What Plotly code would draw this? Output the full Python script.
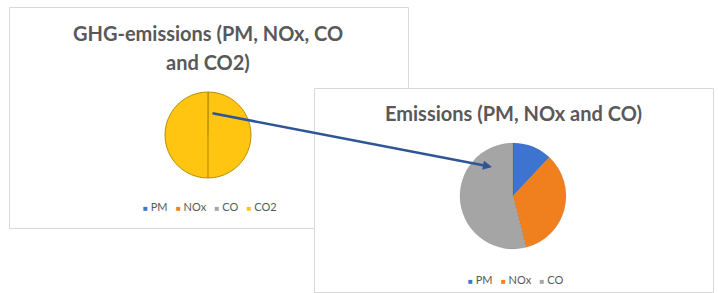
import plotly.graph_objects as go

# ---- data ----
ghg_labels = ["PM", "NOx", "CO", "CO2"]
ghg_values = [0.012, 0.034, 0.054, 99.9]
emis_labels = ["PM", "NOx", "CO"]
emis_values = [12, 34, 54]
colors = {"PM": "#3C74D0", "NOx": "#F07F1E", "CO": "#A5A5A5", "CO2": "#FFC510"}
title_left = ["GHG-emissions (PM, NOx, CO", "and CO2)"]
title_right = "Emissions (PM, NOx and CO)"

W, H = 718, 293
FONT = "Lato"
TXT = "#595959"


def px(x):
    return x / W


def py(y):
    return 1 - y / H


def dom(cx, cy, r):
    return dict(x=[px(cx - r), px(cx + r)], y=[py(cy + r), py(cy - r)])


fig = go.Figure()

# panels
shapes = [
    dict(type="rect", xref="paper", yref="paper", x0=px(9.5), x1=px(408.5), y0=py(228.5), y1=py(7.5),
         line=dict(color="#D9D9D9", width=1), fillcolor="white", layer="below"),
    dict(type="rect", xref="paper", yref="paper", x0=px(314.5), x1=px(713.5), y0=py(292.5), y1=py(88.5),
         line=dict(color="#D9D9D9", width=1), fillcolor="white", layer="below"),
]

lc, lr = (208, 135), 43
rc, rr = (513, 196), 53

fig.add_trace(go.Pie(
    labels=ghg_labels, values=ghg_values, sort=False, direction="clockwise", rotation=0,
    marker=dict(colors=[colors[l] for l in ghg_labels], line=dict(color="#B89000", width=1)),
    textinfo="none", hoverinfo="label+percent", domain=dom(lc[0], lc[1], lr), showlegend=False,
))
fig.add_trace(go.Pie(
    labels=emis_labels, values=emis_values, sort=False, direction="clockwise", rotation=0,
    marker=dict(colors=[colors[l] for l in emis_labels], line=dict(color="rgba(0,0,0,0.15)", width=0.5)),
    textinfo="none", hoverinfo="label+percent", domain=dom(rc[0], rc[1], rr), showlegend=False,
))

# split line on the left pie (lower half)
shapes.append(dict(type="line", xref="paper", yref="paper", x0=px(lc[0]), x1=px(lc[0]),
                   y0=py(lc[1]), y1=py(lc[1] + lr), line=dict(color="#B89000", width=1.2)))

ann = []
ann.append(dict(text=f"<b>{title_left[0]}</b>", x=px(208), y=py(33), xref="paper", yref="paper",
                showarrow=False, xanchor="center", yanchor="middle",
                font=dict(family=FONT, size=20, color=TXT)))
ann.append(dict(text=f"<b>{title_left[1]}</b>", x=px(208), y=py(62), xref="paper", yref="paper",
                showarrow=False, xanchor="center", yanchor="middle",
                font=dict(family=FONT, size=20, color=TXT)))
ann.append(dict(text=f"<b>{title_right}</b>", x=px(513), y=py(113), xref="paper", yref="paper",
                showarrow=False, xanchor="center", yanchor="middle",
                font=dict(family=FONT, size=20, color=TXT)))


def legend_text(labels):
    parts = []
    for l in labels:
        parts.append(f"<span style='color:{colors[l]};font-size:8px'>■</span>\u00a0{l}")
    return "\u00a0\u00a0\u00a0".join(parts)


ann.append(dict(text=legend_text(ghg_labels), x=px(210), y=py(206), xref="paper", yref="paper",
                showarrow=False, xanchor="center", yanchor="middle",
                font=dict(family=FONT, size=11, color=TXT)))
ann.append(dict(text=legend_text(emis_labels), x=px(515), y=py(279), xref="paper", yref="paper",
                showarrow=False, xanchor="center", yanchor="middle",
                font=dict(family=FONT, size=11, color=TXT)))

# connecting arrow
tail, head = (211, 113), (492, 167)
ann.append(dict(text="", x=px(head[0]), y=py(head[1]), xref="paper", yref="paper",
                ax=tail[0] - head[0], ay=tail[1] - head[1], showarrow=True,
                arrowhead=2, arrowsize=0.7, arrowwidth=2.6, arrowcolor="#2F5597"))

fig.update_layout(
    width=W, height=H, margin=dict(l=0, r=0, t=0, b=0),
    paper_bgcolor="white", plot_bgcolor="white",
    shapes=shapes, annotations=ann, showlegend=False,
)

fig.write_html("out.html", config={"displayModeBar": False},
               post_script="document.body.style.margin='0';document.body.style.overflow='hidden';")
